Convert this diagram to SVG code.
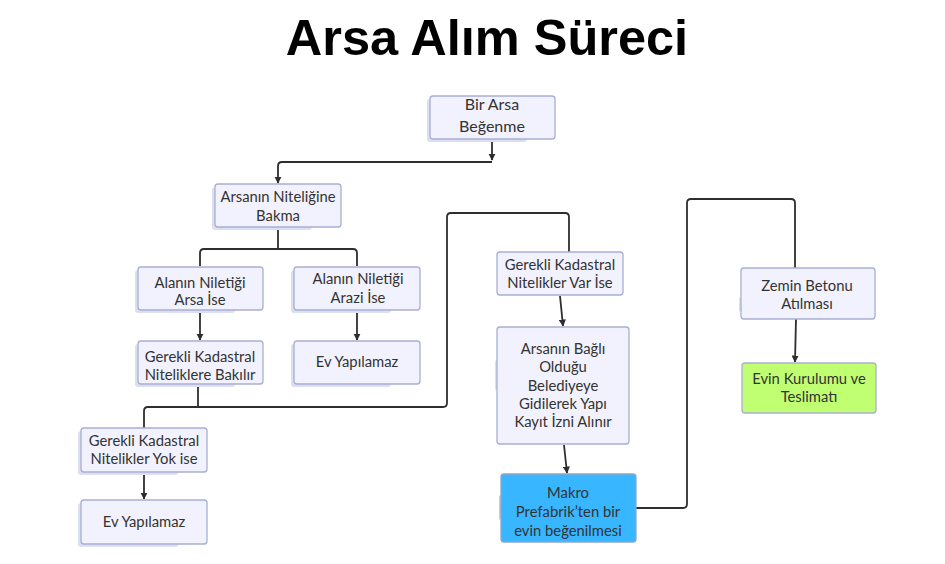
<svg xmlns="http://www.w3.org/2000/svg" width="945" height="564" viewBox="0 0 945 564">
<defs>
<style>
.box{fill:#F1F2FD;stroke:#A9AED3;stroke-width:1.3}
.sh{fill:#DCDFF2}
.t{font-family:Lato,"Open Sans",sans-serif;font-size:14.8px;fill:#333;text-anchor:middle}
.c{fill:none;stroke:#2E2E2E;stroke-width:1.8;stroke-linejoin:round}
</style>
<marker id="ah" viewBox="0 0 10 10" refX="9" refY="5" markerWidth="4" markerHeight="4" orient="auto-start-reverse">
<path d="M0,0 L10,5 L0,10 z" fill="#2E2E2E"/>
</marker>
</defs>
<rect width="945" height="564" fill="#fff"/>
<text x="487" y="55" font-family="'Liberation Sans',Arial,sans-serif" font-weight="bold" font-size="50.5" fill="#000" text-anchor="middle">Arsa Alım Süreci</text>

<g id="connectors">
<path class="c" d="M492,139 V160" marker-end="url(#ah)"/>
<path class="c" d="M492,162 H282 Q278,162 278,166 V183" marker-end="url(#ah)"/>
<path class="c" d="M278,227 V249"/>
<path class="c" d="M200,266 V253 Q200,249 204,249 H353 Q357,249 357,253 V266"/>
<path class="c" d="M200,310 V340" marker-end="url(#ah)"/>
<path class="c" d="M357,310 V340" marker-end="url(#ah)"/>
<path class="c" d="M198,384 V407"/>
<path class="c" d="M144,428 V411 Q144,407 148,407 H443 Q447,407 447,403 V217 Q447,213 451,213 H565 Q569,213 569,217 V252"/>
<path class="c" d="M144,472 V499" marker-end="url(#ah)"/>
<path class="c" d="M560,296 L563,326" marker-end="url(#ah)"/>
<path class="c" d="M564,445 L567,473" marker-end="url(#ah)"/>
<path class="c" d="M636,508 H683 Q687,508 687,504 V203 Q687,199 691,199 H791 Q795,199 795,203 V268"/>
<path class="c" d="M796,319 L795,362" marker-end="url(#ah)"/>
</g>

<g id="n1"><rect class="sh" x="427" y="99" width="100" height="43" rx="3"/><rect class="box" x="430" y="96" width="125" height="43" rx="3"/><text class="t" style="font-size:16px"><tspan x="492" y="110">Bir Arsa</tspan><tspan x="492" y="132">Beğenme</tspan></text></g>
<g id="n2"><rect class="sh" x="212" y="187" width="100" height="43" rx="3"/><rect class="box" x="215" y="184" width="126" height="43" rx="3"/><text class="t"><tspan x="278" y="202">Arsanın Niteliğine</tspan><tspan x="278" y="221">Bakma</tspan></text></g>
<g id="n3"><rect class="sh" x="135" y="270" width="100" height="43" rx="3"/><rect class="box" x="138" y="267" width="125" height="43" rx="3"/><text class="t"><tspan x="200" y="288">Alanın Niletiği</tspan><tspan x="200" y="305">Arsa İse</tspan></text></g>
<g id="n4"><rect class="sh" x="291" y="270" width="100" height="43" rx="3"/><rect class="box" x="294" y="267" width="126" height="43" rx="3"/><text class="t"><tspan x="358" y="284">Alanın Niletiği</tspan><tspan x="358" y="303">Arazi İse</tspan></text></g>
<g id="n5"><rect class="sh" x="135" y="344" width="100" height="43" rx="3"/><rect class="box" x="138" y="341" width="125" height="43" rx="3"/><text class="t"><tspan x="200" y="362">Gerekli Kadastral</tspan><tspan x="200" y="380">Niteliklere Bakılır</tspan></text></g>
<g id="n6"><rect class="sh" x="291" y="344" width="100" height="43" rx="3"/><rect class="box" x="294" y="341" width="126" height="43" rx="3"/><text class="t" x="357" y="367">Ev Yapılamaz</text></g>
<g id="n7"><rect class="sh" x="78" y="431" width="100" height="44" rx="3"/><rect class="box" x="81" y="428" width="126" height="44" rx="3"/><text class="t"><tspan x="144" y="446">Gerekli Kadastral</tspan><tspan x="144" y="464">Nitelikler Yok ise</tspan></text></g>
<g id="n8"><rect class="sh" x="78" y="503" width="100" height="44" rx="3"/><rect class="box" x="81" y="500" width="126" height="44" rx="3"/><text class="t" x="144" y="527">Ev Yapılamaz</text></g>
<g id="n9"><rect class="box" x="497" y="252" width="126" height="43" rx="3"/><text class="t"><tspan x="560" y="270">Gerekli Kadastral</tspan><tspan x="560" y="288">Nitelikler Var İse</tspan></text></g>
<g id="n10"><rect class="sh" x="495" y="360" width="6" height="30" rx="2"/><rect class="box" x="497" y="327" width="132" height="117" rx="3"/><text class="t"><tspan x="563" y="354">Arsanın Bağlı</tspan><tspan x="563" y="372">Olduğu</tspan><tspan x="563" y="391">Belediyeye</tspan><tspan x="563" y="409">Gidilerek Yapı</tspan><tspan x="563" y="427">Kayıt İzni Alınır</tspan></text></g>
<g id="n11"><rect x="499" y="495" width="6" height="25" rx="2" fill="#C8CBE0"/><rect x="501" y="474" width="135" height="68" rx="3" fill="#38B6FF" stroke="#8FA6C8" stroke-width="1.3"/><text class="t"><tspan x="568" y="498">Makro</tspan><tspan x="568" y="517">Prefabrik’ten bir</tspan><tspan x="568" y="536">evin beğenilmesi</tspan></text></g>
<g id="n12"><rect class="sh" x="739" y="297" width="6" height="15" rx="2"/><rect class="box" x="741" y="268" width="134" height="51" rx="3"/><text class="t"><tspan x="807" y="291">Zemin Betonu</tspan><tspan x="807" y="309">Atılması</tspan></text></g>
<g id="n13"><rect x="742" y="363" width="134" height="50" rx="3" fill="#C1FF72" stroke="#A9AED3" stroke-width="1.3"/><text class="t"><tspan x="809" y="384">Evin Kurulumu ve</tspan><tspan x="809" y="402">Teslimatı</tspan></text></g>
</svg>
